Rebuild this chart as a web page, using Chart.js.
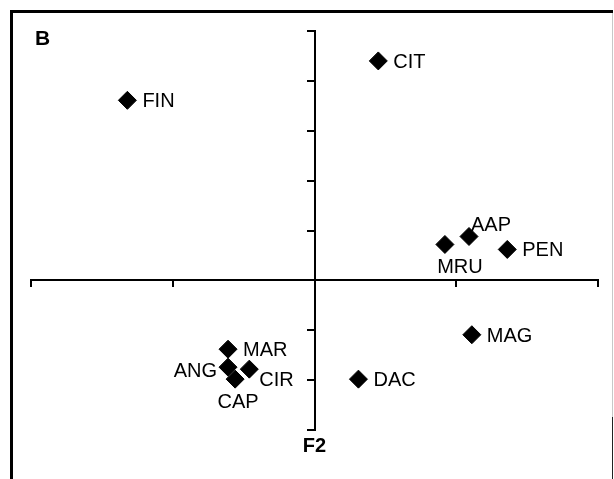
<!DOCTYPE html>
<html>
<head>
<meta charset="utf-8">
<script src="https://cdn.jsdelivr.net/npm/chart.js@4"></script>
<style>
  html, body { margin: 0; padding: 0; background: #fff; }
  #wrap { width: 614px; height: 479px; position: relative; }
</style>
</head>
<body>
<div id="wrap"><canvas id="myChart"></canvas></div>
<script>
const names = ["FIN", "CIT", "AAP", "MRU", "PEN", "MAG", "DAC", "MAR", "ANG", "CIR", "CAP"];
const f1 = [-1.32, 0.45, 1.09, 0.92, 1.36, 1.11, 0.31, -0.61, -0.61, -0.46, -0.56];
const f2 = [3.61, 4.4, 0.88, 0.72, 0.62, -1.09, -1.98, -1.38, -1.74, -1.78, -1.98];

const panel = "B";
const yTitle = "F2";

const FONT = "'Liberation Sans', Arial, Helvetica, sans-serif";

// where each label sits next to its diamond: [align, dx, dy]
const place = {
  ANG: ["right", -11, 3],
  CIR: ["left", 10, 10],
  CAP: ["center", 3, 22],
  MRU: ["center", 15, 22],
  AAP: ["left", 2, -12],
};

const frame = {
  id: "frame",
  beforeDraw(chart) {
    const c = chart.ctx;
    c.save();
    c.fillStyle = "#fff";
    c.fillRect(0, 0, chart.width, chart.height);
    c.fillStyle = "#000";
    c.fillRect(10, 10, 3, chart.height - 10);
    c.fillRect(10, 10, chart.width - 11, 3);
    c.fillStyle = "#c8c8c8";
    c.fillRect(612, 13, 1, chart.height - 13);
    c.fillStyle = "#222";
    c.fillRect(612, 417, 1, chart.height - 417);
    c.fillStyle = "#000";
    c.font = "bold 21px " + FONT;
    c.textBaseline = "alphabetic";
    c.textAlign = "left";
    c.fillText(panel, 35, 45);
    c.restore();
  },
  afterDatasetsDraw(chart) {
    const c = chart.ctx;
    const sx = chart.scales.x, sy = chart.scales.y;
    c.save();
    c.fillStyle = "#000";
    c.textBaseline = "alphabetic";
    c.font = "20px " + FONT;
    names.forEach((n, i) => {
      const p = place[n] || ["left", 15, 0];
      const x = sx.getPixelForValue(f1[i]);
      const y = sy.getPixelForValue(f2[i]);
      c.textAlign = p[0];
      c.fillText(n, x + p[1], y + p[2] + 7);
    });
    c.font = "bold 20px " + FONT;
    c.textAlign = "center";
    c.fillText(yTitle, sx.getPixelForValue(0), sy.bottom + 22);
    c.restore();
  },
};

const ctx = document.getElementById("myChart").getContext("2d");
const myChart = new Chart(ctx, {
  type: "scatter",
  data: {
    datasets: [
      {
        data: names.map((n, i) => ({ x: f1[i], y: f2[i] })),
        pointStyle: "rectRot",
        pointRadius: 9,
        pointHoverRadius: 9,
        backgroundColor: "#000",
        borderColor: "#000",
        borderWidth: 1,
      },
    ],
  },
  options: {
    responsive: true,
    maintainAspectRatio: false,
    animation: false,
    events: [],
    layout: {
      autoPadding: false,
      padding: { left: 31, top: 31, right: 16, bottom: 49 },
    },
    scales: {
      x: {
        type: "linear",
        position: { y: 0 },
        min: -2,
        max: 2,
        ticks: { stepSize: 1, display: false },
        grid: { drawOnChartArea: false, drawTicks: true, tickLength: 6, color: "#000", lineWidth: 2 },
        border: { color: "#000", width: 2 },
      },
      y: {
        type: "linear",
        position: { x: 0 },
        min: -3,
        max: 5,
        ticks: { stepSize: 1, display: false },
        grid: { drawOnChartArea: false, drawTicks: true, tickLength: 7, color: "#000", lineWidth: 2 },
        border: { color: "#000", width: 2 },
      },
    },
    plugins: {
      legend: { display: false },
      tooltip: { enabled: false },
    },
  },
  plugins: [frame],
});
</script>
</body>
</html>
